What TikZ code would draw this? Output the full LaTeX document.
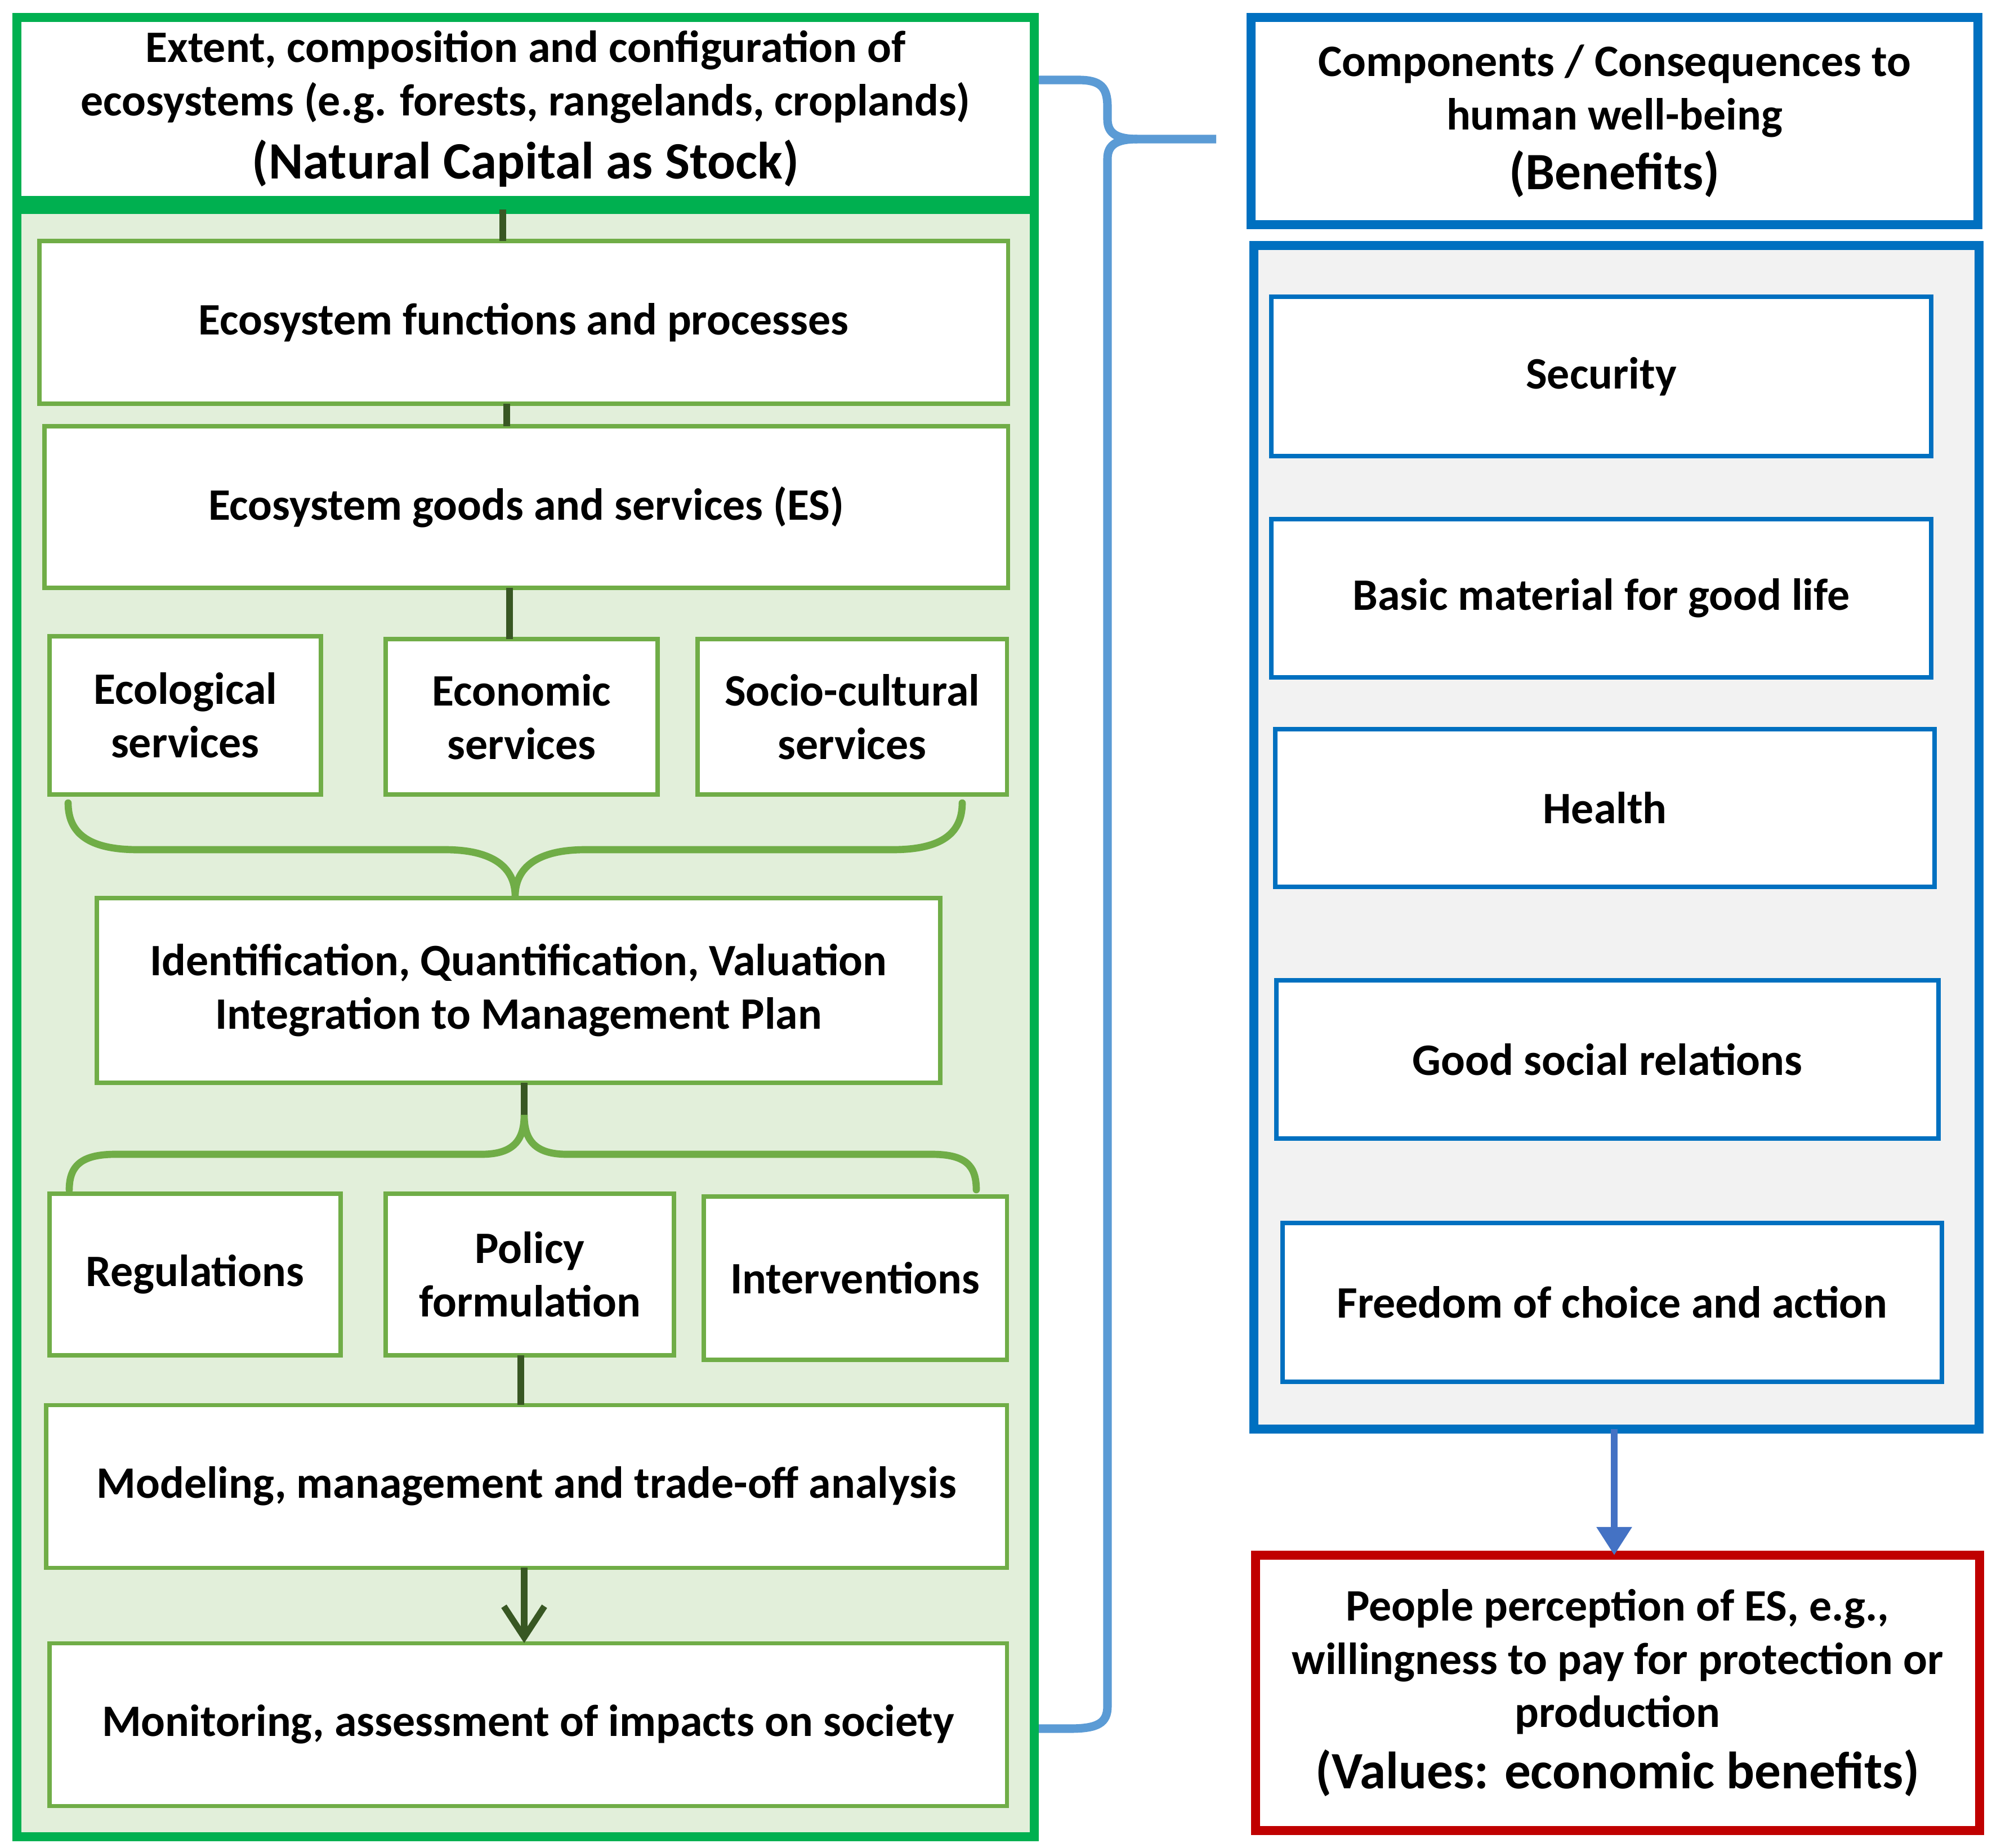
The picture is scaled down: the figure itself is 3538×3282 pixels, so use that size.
\documentclass[tikz,border=0pt]{standalone}
\usepackage{fontspec}
\setmainfont{Carlito}
\usetikzlibrary{arrows.meta,calc}
\definecolor{gframe}{HTML}{00B050}
\definecolor{gin}{HTML}{70AD47}
\definecolor{gfill}{HTML}{E2EFDA}
\definecolor{gdark}{HTML}{385723}
\definecolor{bframe}{HTML}{0070C0}
\definecolor{blight}{HTML}{5B9BD5}
\definecolor{barrowc}{HTML}{4472C4}
\definecolor{rframe}{HTML}{C00000}
\definecolor{grayfill}{HTML}{F2F2F2}
\begin{document}
\begin{tikzpicture}[x=0.01cm,y=-0.01cm,
  txt/.style={align=center, font=\fontsize{22.7}{27}\selectfont\bfseries, text=black},
  place/.style n args={4}{at={({(#1+#3)/2},{(#2+#4)/2})}, anchor=center,
     minimum width={(#3-#1)*0.01cm}, minimum height={(#4-#2)*0.01cm}, inner sep=0pt, outer sep=0pt},
  gbox/.style={txt, draw=gin, line width=2pt, fill=white},
  bbox/.style={txt, draw=bframe, line width=2.3pt, fill=white},
  bigframe/.style={line width=4.3pt},
  conn/.style={draw=gdark, line width=3.2pt},
  gbrace/.style={draw=gin, line width=3.6pt, line cap=round},
  bbrace/.style={draw=blight, line width=4.3pt, line cap=butt},
  bigtxt/.style={font=\fontsize{26.5}{30}\selectfont\bfseries}
]
\useasboundingbox (0,0) rectangle (3538,3282);
\fill[white] (0,0) rectangle (3538,3282);

% ---------------- left column ----------------
\node[bigframe, draw=gframe, fill=gfill, place={30}{372}{1837}{3262}] (frame) {};
\node[bigframe, txt, draw=gframe, fill=white, place={30}{31}{1837}{356}] (top)
  {Extent, composition and configuration of\\
   ecosystems (e.g. forests, rangelands, croplands)\\[5pt]
   {\fontsize{26.5}{30}\selectfont (Natural Capital as Stock)}};

\node[gbox, place={70}{428}{1790}{717}] (func) {Ecosystem functions and processes};
\node[gbox, place={79}{757}{1790}{1044}] (goods) {Ecosystem goods and services (ES)};
\node[gbox, place={88}{1130}{570}{1411}] (ecol) {Ecological\\services};
\node[gbox, place={685}{1135}{1168}{1411}] (econ) {Economic\\services};
\node[gbox, place={1239}{1135}{1788}{1411}] (socio) {Socio-cultural\\services};
\node[gbox, place={172}{1595}{1670}{1923}] (ident)
  {Identification, Quantification, Valuation\\Integration to Management Plan};
\node[gbox, place={88}{2120}{605}{2407}] (reg) {Regulations};
\node[gbox, place={685}{2120}{1197}{2407}] (pol) {Policy\\formulation};
\node[gbox, place={1250}{2125}{1788}{2415}] (interv) {Interventions};
\node[gbox, place={82}{2495}{1788}{2784}] (model) {Modeling, management and trade-off analysis};
\node[gbox, place={88}{2918}{1788}{3207}] (monit) {Monitoring, assessment of impacts on society};

\coordinate (c1) at (893,0);
\coordinate (c2) at (900,0);
\coordinate (c3) at (905,0);
\coordinate (c4) at (931,0);
\coordinate (c5) at (925,0);
\coordinate (c6) at (931,0);
\coordinate (tip2) at (931,1990);

\draw[conn] (frame.north -| c1) -- (func.north -| c1);
\draw[conn] (func.south -| c2) -- (goods.north -| c2);
\draw[conn] (goods.south -| c3) -- (econ.north -| c3);
\draw[conn] (ident.south -| c4) -- (tip2);
\draw[conn] (pol.south -| c5) -- (model.north -| c5);
\draw[conn, -{Straight Barb[length=0.55cm, width=0.72cm]}] (model.south -| c6) -- (monit.north -| c6);

% upper brace (services -> identification)
\draw[gbrace] (121,1426) .. controls (121,1485) and (165,1509) .. (245,1509)
  -- (790,1509) .. controls (875,1509) and (915,1540) .. (915,1592)
  .. controls (915,1540) and (955,1509) .. (1040,1509)
  -- (1585,1509) .. controls (1665,1509) and (1709,1485) .. (1709,1426);
% lower brace (identification -> regulations/policy/interventions)
\draw[gbrace] (123,2113) .. controls (123,2070) and (145,2050) .. (205,2050)
  -- (855,2050) .. controls (912,2050) and (931,2025) .. (931,1980)
  .. controls (931,2025) and (950,2050) .. (1007,2050)
  -- (1655,2050) .. controls (1715,2050) and (1734,2070) .. (1734,2113);

% ---------------- right column ----------------
\node[bigframe, txt, draw=bframe, fill=white, place={2222}{31}{3513}{399}] (ben)
  {Components / Consequences to\\
   human well-being\\[3pt]
   {\fontsize{26.5}{30}\selectfont (Benefits)}};
\node[bigframe, draw=bframe, fill=grayfill, place={2227}{436}{3515}{2538}] (wb) {};
\node[bbox, place={2258}{527}{3430}{810}] (sec) {Security};
\node[bbox, place={2258}{922}{3430}{1203}] (basic) {Basic material for good life};
\node[bbox, place={2265}{1295}{3436}{1575}] (health) {Health};
\node[bbox, place={2267}{1741}{3443}{2022}] (social) {Good social relations};
\node[bbox, place={2278}{2172}{3449}{2454}] (free) {Freedom of choice and action};
\node[bigframe, txt, draw=rframe, fill=white, place={2230}{2762}{3516}{3251}] (val)
  {People perception of ES, e.g.,\\
   willingness to pay for protection or\\
   production\\[4pt]
   {\fontsize{26.5}{30}\selectfont (Values: economic benefits)}};

\coordinate (ax) at (2867,0);
\draw[draw=barrowc, line width=3.4pt, -{Triangle[length=0.5cm, width=0.6cm]}] (wb.south -| ax) -- (val.north -| ax);

% blue brace linking left column to benefits
\coordinate (bb1) at (1845,142);
\coordinate (bb2) at (2160,247);
\coordinate (bb3) at (1845,3070);
\draw[bbrace] (bb1) -- (1915,142) .. controls (1955,142) and (1967,155) .. (1967,190)
  -- (1967,212) .. controls (1967,238) and (1985,247) .. (2020,247) -- (bb2);
\draw[bbrace] (2020,247) .. controls (1985,247) and (1967,256) .. (1967,282)
  -- (1967,3030) .. controls (1967,3060) and (1950,3070) .. (1900,3070) -- (bb3);
\end{tikzpicture}
\end{document}
